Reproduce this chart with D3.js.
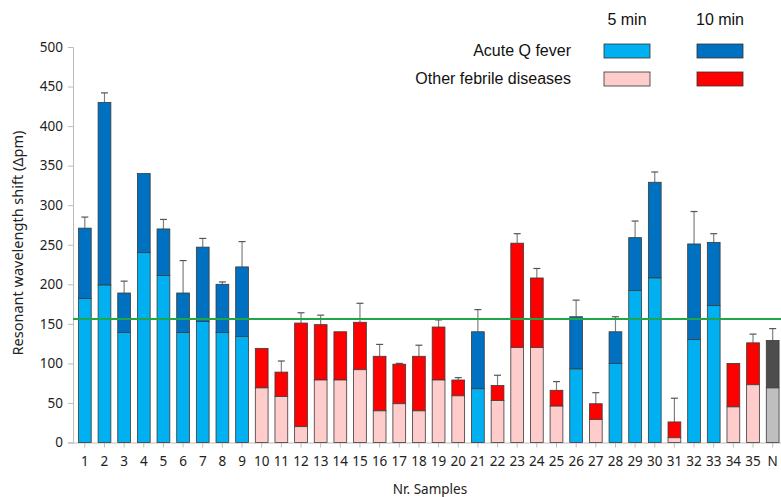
<!DOCTYPE html>
<html><head><meta charset="utf-8">
<script src="https://cdn.jsdelivr.net/npm/d3@7"></script>
<style>body{margin:0;background:#fff}svg{display:block}</style>
</head><body>
<svg id="c" width="781" height="497"></svg>
<script>
const categories = ["1","2","3","4","5","6","7","8","9","10","11","12","13","14","15","16","17","18","19","20","21","22","23","24","25","26","27","28","29","30","31","32","33","34","35","N"];
const groups = ["Q","Q","Q","Q","Q","Q","Q","Q","Q","O","O","O","O","O","O","O","O","O","O","O","Q","O","O","O","O","Q","O","Q","Q","Q","O","Q","Q","O","O","N"];
const value5 = [182,199,139,240,211,139,153,139,134,69,58,20,79,79,92,40,49,40,79,59,68,53,120,120,46,93,29,100,192,208,6,130,173,45,73,69];
const value10 = [271,430,189,340,270,189,247,200,222,119,89,151,149,140,152,109,99,109,146,79,140,72,252,208,66,159,49,140,259,329,26,251,253,100,126,129];
const errTop = [285,442,204,null,282,230,258,203,254,null,103,164,161,null,176,124,100,123,155,82,168,85,264,220,77,180,63,159,280,342,56,292,264,null,137,144];
const yTicks = [0,50,100,150,200,250,300,350,400,450,500];
const cutoff = 156;
const legendCols = ["5 min","10 min"];
const legendRows = ["Acute Q fever","Other febrile diseases"];

const colors = {Q:["#00B0F0","#0070C0"], O:["#FFCCCC","#FF0000"], N:["#BFBFBF","#4D4D4D"]};

const svg = d3.select("#c");
const x0 = 73, xr = 782.5, y0 = 442.5, y1 = 47;
const x = d3.scaleBand().domain(categories).range([75, xr]).paddingInner(0.35).paddingOuter(0.175);
const y = d3.scaleLinear().domain([0,500]).range([y0,y1]);
const font = "'Noto Sans', 'DejaVu Sans', sans-serif";

// y axis
const ya = svg.append("g").attr("transform",`translate(${x0},0)`).call(d3.axisLeft(y).tickValues(yTicks).tickSize(5).tickPadding(5));
ya.selectAll("path,line").attr("stroke","#BDBDBD");
ya.selectAll("text").attr("font-family",font).attr("font-size",13.5).attr("fill","#222");

// x axis
const xa = svg.append("g").attr("transform",`translate(0,${y0})`).call(d3.axisBottom(x).tickSize(5).tickPadding(9).tickSizeOuter(0));
xa.select("path").attr("d",`M${x0},0.5H${xr}`).attr("stroke","#BDBDBD");
xa.selectAll("line").attr("stroke","#BDBDBD");
xa.selectAll("text").attr("font-family",font).attr("font-size",13.5).attr("fill","#222");

const data = categories.map((c,i)=>({c,g:groups[i],v5:value5[i],v10:value10[i],e:errTop[i]}));

// error bars
const eb = svg.append("g");
data.filter(d=>d.e!=null).forEach(d=>{
  const cx = x(d.c)+x.bandwidth()/2;
  eb.append("line").attr("x1",cx).attr("x2",cx).attr("y1",y(d.v10)).attr("y2",y(d.e)).attr("stroke","#808080").attr("stroke-width",1.2);
  eb.append("line").attr("x1",cx-3.5).attr("x2",cx+3.5).attr("y1",y(d.e)).attr("y2",y(d.e)).attr("stroke","#555").attr("stroke-width",1.2);
});

// bars
const bars = svg.append("g");
bars.selectAll("rect.top").data(data).join("rect")
  .attr("x",d=>x(d.c)).attr("width",x.bandwidth())
  .attr("y",d=>y(d.v10)).attr("height",d=>y(d.v5)-y(d.v10))
  .attr("fill",d=>colors[d.g][1]).attr("stroke","#3a3a3a").attr("stroke-width",0.8);
bars.selectAll("rect.bot").data(data).join("rect")
  .attr("x",d=>x(d.c)).attr("width",x.bandwidth())
  .attr("y",d=>y(d.v5)).attr("height",d=>y(0)-y(d.v5))
  .attr("fill",d=>colors[d.g][0]).attr("stroke","#3a3a3a").attr("stroke-width",0.8);

// cutoff line
svg.append("line").attr("x1",x0).attr("x2",781).attr("y1",y(cutoff)).attr("y2",y(cutoff)).attr("stroke","#1FA64A").attr("stroke-width",2);

// axis titles
svg.append("text").attr("transform","translate(23,243) rotate(-90)").attr("text-anchor","middle")
  .attr("font-family",font).attr("font-size",14.5).attr("fill","#222").text("Resonant  wavelength  shift (Δpm)");
svg.append("text").attr("x",430).attr("y",494).attr("text-anchor","middle")
  .attr("font-family",font).attr("font-size",13.5).attr("fill","#222").text("Nr. Samples");

// legend
const lf = "'Liberation Sans', Arial, sans-serif";
const colX = [604, 697], rowY = [44, 72];
legendCols.forEach((t,i)=>svg.append("text").attr("x",colX[i]+23).attr("y",25).attr("text-anchor","middle")
  .attr("font-family",lf).attr("font-size",16).attr("fill","#111").text(t));
const gk = ["Q","O"];
legendRows.forEach((t,r)=>{
  svg.append("text").attr("x",571).attr("y",rowY[r]+12).attr("text-anchor","end")
    .attr("font-family",lf).attr("font-size",16).attr("fill","#111").text(t);
  [0,1].forEach(k=>svg.append("rect").attr("x",colX[k]).attr("y",rowY[r]).attr("width",46).attr("height",14)
    .attr("fill",colors[gk[r]][k]).attr("stroke","#333").attr("stroke-width",0.8));
});
</script>
</body></html>
